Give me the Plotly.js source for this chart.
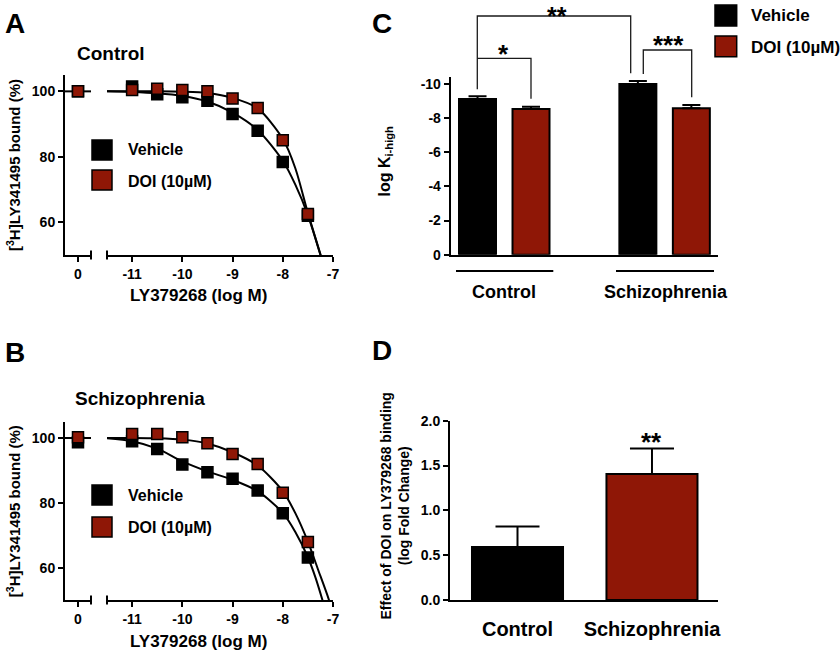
<!DOCTYPE html>
<html><head><meta charset="utf-8">
<script src="https://cdn.plot.ly/plotly-3.0.1.min.js"></script>
<style>html,body{margin:0;padding:0;background:#fff}</style>
</head><body><div id="chart" style="width:840px;height:655px"></div>
<script>
const W = 840, H = 655;
const FONT = '"Liberation Sans", Arial, Helvetica, sans-serif';
const BLACK = '#000000', RED = '#8f1706';

// ---- Panels A / B : competition binding curves ----
const zeroLog = [0];
const concLog = [-11, -10.5, -10, -9.5, -9, -8.5, -8, -7.5];
const ctrlVehAt0 = [100];
const ctrlVeh = [101.5, 99.1, 98.2, 97.1, 93.1, 88.0, 78.4, 62.0];
const ctrlDoiAt0 = [100];
const ctrlDoi = [100.4, 100.8, 100.4, 100.0, 97.8, 94.9, 85.1, 62.5];
const scVehAt0 = [98.7];
const scVeh = [99.0, 96.6, 91.8, 89.4, 87.4, 83.8, 76.8, 63.1];
const scDoiAt0 = [100.2];
const scDoi = [101.2, 101.2, 100.2, 98.4, 95.1, 92.0, 83.1, 67.9];

// fitted curves
const fitLeftX = [-0.26, 0.26];
const fitLeftY = [100, 100];
const fitCtrlVehX = [-11.5, -11, -10.5, -10, -9.5, -9, -8.5, -8, -7.75, -7.5, -7.25, -7.1];
const fitCtrlVehY = [100, 99.8, 99.4, 98.6, 96.9, 93.5, 88.2, 78.8, 71.5, 62.2, 50.0, 42];
const fitCtrlDoiX = [-11.5, -11, -10.5, -10, -9.5, -9, -8.5, -8, -7.75, -7.5, -7.25, -7.1];
const fitCtrlDoiY = [100, 100, 100, 99.9, 99.5, 98.0, 94.8, 85.5, 76.5, 62.8, 50.2, 42];
const fitScVehX = [-11.5, -11, -10.5, -10, -9.5, -9, -8.5, -8, -7.75, -7.5, -7.35, -7.21, -7.1];
const fitScVehY = [99.9, 99.0, 96.7, 92.8, 89.7, 87.1, 83.6, 76.9, 71.0, 63.2, 57.0, 50.0, 44];
const fitScDoiX = [-11.5, -11, -10.5, -10, -9.5, -9, -8.5, -8, -7.75, -7.5, -7.3, -7.08, -6.95];
const fitScDoiY = [100, 100, 99.9, 99.5, 98.3, 95.6, 91.5, 83.6, 76.8, 68.0, 59.5, 50.0, 43];

const xTickVals = [-11, -10, -9, -8, -7];
const xTickText = ['-11', '-10', '-9', '-8', '-7'];
const yTickValsAB = [60, 80, 100];

// ---- Panel C : log Ki-high ----
const groups = ['Control', 'Schizophrenia'];
const kiVehicle = [-9.12, -10.0];
const kiVehicleSem = [0.16, 0.18];
const kiDoi = [-8.54, -8.58];
const kiDoiSem = [0.13, 0.19];
const yTickValsC = [0, -2, -4, -6, -8, -10];
const yTickTextC = ['0', '-2', '-4', '-6', '-8', '-10'];

// ---- Panel D : effect of DOI ----
const effect = [0.59, 1.405];
const effectSem = [0.23, 0.285];
const yTickValsD = [0, 0.5, 1, 1.5, 2];
const yTickTextD = ['0.0', '0.5', '1.0', '1.5', '2.0'];

// ---------------------------------------------
const px = v => v / W;
const py = v => 1 - v / H;

function curve(x, y, xa, ya) {
  return {x, y, xaxis: xa, yaxis: ya, type: 'scatter', mode: 'lines',
    line: {color: BLACK, width: 2, shape: 'spline', smoothing: 0.8},
    hoverinfo: 'skip', showlegend: false, cliponaxis: true};
}
function pts(x, y, color, xa, ya, name) {
  return {x, y, xaxis: xa, yaxis: ya, type: 'scatter', mode: 'markers', name,
    marker: {symbol: 'square', size: 11, color, line: {color: BLACK, width: 1.5}},
    showlegend: false, cliponaxis: false};
}

const data = [
  // A
  curve(fitLeftX, fitLeftY, 'x', 'y'),
  curve(fitCtrlVehX, fitCtrlVehY, 'x2', 'y'),
  curve(fitCtrlDoiX, fitCtrlDoiY, 'x2', 'y'),
  pts(zeroLog, ctrlVehAt0, BLACK, 'x', 'y', 'Vehicle'),
  pts(concLog, ctrlVeh, BLACK, 'x2', 'y', 'Vehicle'),
  pts(zeroLog, ctrlDoiAt0, RED, 'x', 'y', 'DOI (10µM)'),
  pts(concLog, ctrlDoi, RED, 'x2', 'y', 'DOI (10µM)'),
  // B
  curve(fitLeftX, fitLeftY, 'x3', 'y2'),
  curve(fitScVehX, fitScVehY, 'x4', 'y2'),
  curve(fitScDoiX, fitScDoiY, 'x4', 'y2'),
  pts(zeroLog, scVehAt0, BLACK, 'x3', 'y2', 'Vehicle'),
  pts(concLog, scVeh, BLACK, 'x4', 'y2', 'Vehicle'),
  pts(zeroLog, scDoiAt0, RED, 'x3', 'y2', 'DOI (10µM)'),
  pts(concLog, scDoi, RED, 'x4', 'y2', 'DOI (10µM)'),
  // C
  {type: 'bar', x: groups, y: kiVehicle, xaxis: 'x5', yaxis: 'y3', name: 'Vehicle',
   width: 0.2307, offset: -0.2821,
   marker: {color: BLACK, line: {color: BLACK, width: 2}},
   error_y: {type: 'data', symmetric: false, array: [0, 0], arrayminus: kiVehicleSem,
             color: BLACK, thickness: 2, width: 9}, showlegend: false},
  {type: 'bar', x: groups, y: kiDoi, xaxis: 'x5', yaxis: 'y3', name: 'DOI (10µM)',
   width: 0.2307, offset: 0.0515,
   marker: {color: RED, line: {color: BLACK, width: 2}},
   error_y: {type: 'data', symmetric: false, array: [0, 0], arrayminus: kiDoiSem,
             color: BLACK, thickness: 2, width: 9}, showlegend: false},
  // D
  {type: 'bar', x: groups, y: effect, xaxis: 'x6', yaxis: 'y4', width: 0.677,
   marker: {color: [BLACK, RED], line: {color: BLACK, width: 2}},
   error_y: {type: 'data', symmetric: false, array: effectSem, arrayminus: [0, 0],
             color: BLACK, thickness: 2, width: 22}, showlegend: false}
];

const tickFont = {family: FONT, size: 14, color: BLACK, weight: 700};
const baseAxis = {showline: true, linecolor: BLACK, linewidth: 2, ticks: 'outside',
  ticklen: 5, tickwidth: 2, tickcolor: BLACK, showgrid: false, zeroline: false,
  tickfont: tickFont, fixedrange: true};
const ax = o => Object.assign({}, baseAxis, o);

const layout = {
  width: W, height: H, margin: {l: 0, r: 0, t: 0, b: 0},
  paper_bgcolor: '#ffffff', plot_bgcolor: 'rgba(0,0,0,0)',
  font: {family: FONT, size: 14, color: BLACK, weight: 700},
  showlegend: false, barmode: 'overlay',
  xaxis: ax({domain: [px(65), px(91)], range: [-0.26, 0.26], anchor: 'y', tickvals: zeroLog, ticktext: ['0']}),
  xaxis2: ax({domain: [px(107), px(333)], range: [-11.5, -7], anchor: 'y', tickvals: xTickVals, ticktext: xTickText}),
  yaxis: ax({domain: [py(255), py(75)], range: [50, 105], anchor: 'x', tickvals: yTickValsAB}),
  xaxis3: ax({domain: [px(65), px(91)], range: [-0.26, 0.26], anchor: 'y2', tickvals: zeroLog, ticktext: ['0']}),
  xaxis4: ax({domain: [px(107), px(333)], range: [-11.5, -7], anchor: 'y2', tickvals: xTickVals, ticktext: xTickText}),
  yaxis2: ax({domain: [py(600), py(421.8)], range: [50, 105], anchor: 'x3', tickvals: yTickValsAB}),
  xaxis5: ax({domain: [px(450.7), px(718)], range: [-0.334, 1.333], anchor: 'y3', type: 'category',
              ticks: '', showticklabels: false}),
  yaxis3: ax({domain: [py(254.7), py(76.7)], range: [0, -10.43], anchor: 'x5',
              tickvals: yTickValsC, ticktext: yTickTextC}),
  xaxis6: ax({domain: [px(450), px(718)], range: [-0.502, 1.491], anchor: 'y4', type: 'category',
              ticks: '', ticklabelstandoff: 10, tickfont: {family: FONT, size: 20, color: BLACK, weight: 700}}),
  yaxis4: ax({domain: [py(600), py(420.7)], range: [0, 2], anchor: 'x6',
              tickvals: yTickValsD, ticktext: yTickTextD}),
  shapes: [],
  annotations: []
};

// axis-break caps
function cap(xref, xv, yAxisPix) {
  return {type: 'line', xref, yref: 'paper', x0: xv, x1: xv,
    y0: py(yAxisPix + 4.5), y1: py(yAxisPix - 4.5), line: {color: BLACK, width: 2}};
}
layout.shapes.push(cap('x domain', 1, 255), cap('x2 domain', 0, 255),
                   cap('x3 domain', 1, 600), cap('x4 domain', 0, 600));

// significance brackets (panel C)
function pathPix(pairs) {
  return pairs.map((p, i) => (i ? 'L' : 'M') + px(p[0]).toFixed(5) + ',' + py(p[1]).toFixed(5)).join(' ');
}
const brLine = {color: '#1a1a1a', width: 1.3};
layout.shapes.push(
  {type: 'path', xref: 'paper', yref: 'paper', line: brLine, path: pathPix([[477.3, 89.3], [477.3, 16], [630.7, 16], [630.7, 73.3]])},
  {type: 'path', xref: 'paper', yref: 'paper', line: brLine, path: pathPix([[477.3, 58.3], [531, 58.3], [531, 98.7]])},
  {type: 'path', xref: 'paper', yref: 'paper', line: brLine, path: pathPix([[643.3, 74], [643.3, 50], [691.7, 50], [691.7, 97.3]])},
  // group underlines
  {type: 'line', xref: 'paper', yref: 'paper', x0: px(456), x1: px(553.3), y0: py(271), y1: py(271), line: {color: BLACK, width: 2}},
  {type: 'line', xref: 'paper', yref: 'paper', x0: px(616), x1: px(714), y0: py(271), y1: py(271), line: {color: BLACK, width: 2}}
);

// legend swatches
function swatch(x0, y0, x1, y1, color) {
  return {type: 'rect', xref: 'paper', yref: 'paper', x0: px(x0), x1: px(x1), y0: py(y1), y1: py(y0),
    fillcolor: color, line: {color: BLACK, width: 1.5}};
}
layout.shapes.push(
  swatch(92, 140, 112, 160, BLACK), swatch(92, 170, 112, 190, RED),
  swatch(92, 485, 112, 505, BLACK), swatch(92, 517, 112, 537, RED),
  swatch(715, 5, 736.7, 26, BLACK), swatch(715, 36, 736.7, 56.7, RED)
);

function ann(text, x, y, size, extra) {
  return Object.assign({text, x: px(x), y: py(y), xref: 'paper', yref: 'paper', showarrow: false,
    xanchor: 'center', yanchor: 'middle', font: {family: FONT, size, color: BLACK, weight: 700}}, extra || {});
}
layout.annotations.push(
  ann('A', 15, 24, 28), ann('B', 15, 352, 28), ann('C', 381.5, 23, 28), ann('D', 381.5, 350, 28),
  ann('Control', 75, 54, 19, {xanchor: 'left'}),
  ann('Schizophrenia', 73, 398.5, 19, {xanchor: 'left'}),
  ann('Vehicle', 126, 150, 16, {xanchor: 'left'}),
  ann('DOI (10µM)', 126, 182, 16, {xanchor: 'left'}),
  ann('Vehicle', 126, 495, 16, {xanchor: 'left'}),
  ann('DOI (10µM)', 126, 527, 16, {xanchor: 'left'}),
  ann('Vehicle', 749, 15.7, 17, {xanchor: 'left'}),
  ann('DOI (10µM)', 749, 48, 17, {xanchor: 'left'}),
  ann('LY379268 (log M)', 198, 295, 17),
  ann('LY379268 (log M)', 198, 641.7, 17),
  ann('[<sup>3</sup>H]LY341495 bound (%)', 13.5, 165.5, 15, {textangle: -90}),
  ann('[<sup>3</sup>H]LY341495 bound (%)', 13.5, 511.7, 15, {textangle: -90}),
  ann('log K<sub>i-high</sub>', 385, 161.5, 16, {textangle: -90}),
  ann('Control', 504.3, 291.7, 18),
  ann('Schizophrenia', 665.8, 291.7, 18),
  ann('Effect of DOI on LY379268 binding<br>(log Fold Change)', 394, 506.5, 14, {textangle: -90}),
  ann('**', 556.7, 0, 25, {yanchor: 'top'}),
  ann('*', 503.3, 53.5, 26),
  ann('***', 668.3, 45, 26),
  ann('**', 651.7, 442, 26)
);

Plotly.newPlot('chart', data, layout, {displayModeBar: false, staticPlot: true});
</script></body></html>
